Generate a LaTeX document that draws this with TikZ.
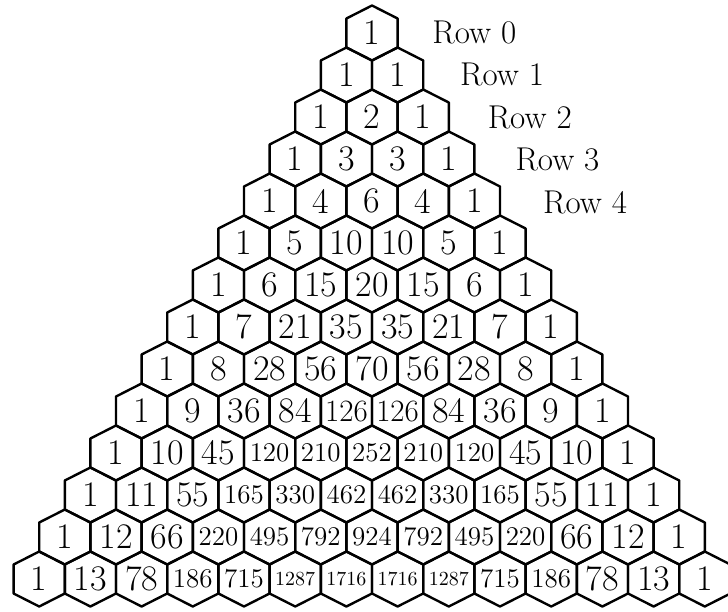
\documentclass[tikz,border=0pt]{standalone}
\begin{document}
\begin{tikzpicture}[x=0.5pt,y=-0.5pt,
  hexline/.style={line width=1.2pt,line join=round},
  num/.style={inner sep=0pt,font=\fontsize{#1}{#1}\selectfont},
  rowlabel/.style={inner sep=0pt,anchor=base west,font=\fontsize{16.5}{16.5}\selectfont}]
\fill[white] (0,0) rectangle (728,611);
\useasboundingbox (0,0) rectangle (728,611);
% the rows, as printed
\foreach \vals [count=\n from 0] in {{1},{1,1},{1,2,1},{1,3,3,1},{1,4,6,4,1},
  {1,5,10,10,5,1},{1,6,15,20,15,6,1},{1,7,21,35,35,21,7,1},
  {1,8,28,56,70,56,28,8,1},{1,9,36,84,126,126,84,36,9,1},
  {1,10,45,120,210,252,210,120,45,10,1},
  {1,11,55,165,330,462,462,330,165,55,11,1},
  {1,12,66,220,495,792,924,792,495,220,66,12,1},
  {1,13,78,186,715,1287,1716,1716,1287,715,186,78,13,1}} {
  \foreach \v [count=\k from 0] in \vals {
    \pgfmathsetmacro\cx{372+(\k-\n/2)*51.2}
    \pgfmathsetmacro\cy{33+42*\n}
    \pgfmathsetmacro\fs{\v>999 ? 10 : (\v>99 ? (\n<10 ? 15.5 : 13.5) : 18)}
    \draw[hexline] (\cx,\cy) ++(0,-27.5) -- ++(25.6,13) -- ++(0,29)
      -- ++(-25.6,13) -- ++(-25.6,-13) -- ++(0,-29) -- cycle;
    \node[num=\fs] (c-\n-\k) at (\cx,\cy) {\v};
  }
}
\foreach \r in {0,...,4}
  \node[rowlabel] (row-\r) at (432+27.7*\r,43+42.5*\r) {Row \r};
\end{tikzpicture}
\end{document}
